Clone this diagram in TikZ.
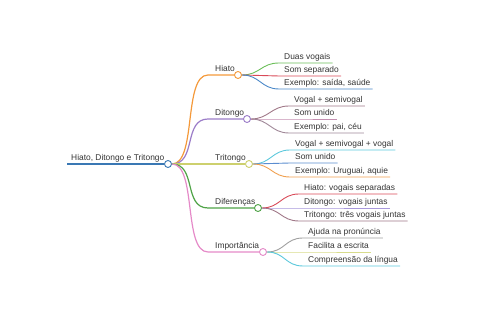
\documentclass[tikz,border=0pt]{standalone}
\usepackage{fontspec}
\setmainfont{Liberation Sans}
\usepackage{tikz}

\definecolor{rootBlue}{HTML}{3A78B4}
\definecolor{brOrange}{HTML}{F4993A}
\definecolor{brPurple}{HTML}{9B7CC8}
\definecolor{brOlive}{HTML}{CDD06E}
\definecolor{brGreen}{HTML}{4FA347}
\definecolor{brPink}{HTML}{E58AC8}
\definecolor{lfGreen}{HTML}{6CBF5A}
\definecolor{lfRed}{HTML}{D94A58}
\definecolor{lfBlue}{HTML}{4A88C8}
\definecolor{lfBrown}{HTML}{A07888}
\definecolor{lfRose}{HTML}{C48FB0}
\definecolor{lfMauve}{HTML}{A08898}
\definecolor{lfCyan}{HTML}{5CC8DC}
\definecolor{lfSky}{HTML}{5B8DD0}
\definecolor{lfOrange}{HTML}{F0A050}
\definecolor{lfLav}{HTML}{A898DC}
\definecolor{lfGray}{HTML}{A0A0A0}
\definecolor{lfLime}{HTML}{D8DC8C}
\definecolor{txtGray}{HTML}{333333}

\begin{document}
\begin{tikzpicture}[x=1pt,y=-1pt,
    font=\fontsize{8.4}{9.5}\selectfont,
    lbl/.style={anchor=base west,inner sep=0pt,text=txtGray},
    dot/.style={circle,draw=#1,fill=white,line width=0.9pt,
        inner sep=0pt,minimum size=7pt},
    branch/.style={line width=1.2pt,#1},
    leaf/.style={line width=0.9pt,#1}]
    \useasboundingbox (0,0) rectangle (480,320);

    % root
    \coordinate (rs) at (67,164);
    \node[dot=rootBlue] (root) at (168,164) {};
    \draw[branch=rootBlue] (rs) -- (root);
    \node[lbl] (rootL) at (71,161) {Hiato, Ditongo e Tritongo};

    % Hiato
    \coordinate (hiS) at (208,75);
    \node[dot=brOrange] (hi) at (238,75) {};
    \node[lbl] (hiL) at (215,72) {Hiato};
    \draw[branch=brOrange] (root.east) .. controls +(25,0) and +(-25,0) .. (hiS) -- (hi);
    \foreach \y/\c/\t [count=\i] in {63/lfGreen/Duas vogais,
            76/lfRed/Som separado, 89/lfBlue/{Exemplo: saída, saúde}} {
        \coordinate (hi\i) at (279,\y);
        \node[lbl] (hiL\i) at (284,\y-3) {\t};
        \draw[leaf=\c] (hi.east) .. controls +(18,0) and +(-18,0) .. (hi\i)
            -- ([xshift=2pt]hiL\i.east |- hi\i);
    }

    % Ditongo
    \coordinate (diS) at (208,119);
    \node[dot=brPurple] (di) at (247,119) {};
    \node[lbl] (diL) at (215,116) {Ditongo};
    \draw[branch=brPurple] (root.east) .. controls +(25,0) and +(-25,0) .. (diS) -- (di);
    \foreach \y/\c/\t [count=\i] in {106/lfBrown/Vogal + semivogal,
            119/lfRose/Som unido, 133/lfMauve/{Exemplo: pai, céu}} {
        \coordinate (di\i) at (289,\y);
        \node[lbl] (diL\i) at (294,\y-3) {\t};
        \draw[leaf=\c] (di.east) .. controls +(18,0) and +(-18,0) .. (di\i)
            -- ([xshift=2pt]diL\i.east |- di\i);
    }

    % Tritongo
    \node[dot=brOlive] (tr) at (249,164) {};
    \node[lbl] (trL) at (215,161) {Tritongo};
    \draw[branch=brOlive] (root) -- (tr);
    \foreach \y/\c/\t [count=\i] in {150/lfCyan/Vogal + semivogal + vogal,
            163/lfSky/Som unido, 177/lfOrange/{Exemplo: Uruguai, aquie}} {
        \coordinate (tr\i) at (290,\y);
        \node[lbl] (trL\i) at (295,\y-3) {\t};
        \draw[leaf=\c] (tr.east) .. controls +(18,0) and +(-18,0) .. (tr\i)
            -- ([xshift=2pt]trL\i.east |- tr\i);
    }

    % Diferenças
    \coordinate (dfS) at (208,208);
    \node[dot=brGreen] (df) at (258,208) {};
    \node[lbl] (dfL) at (215,205) {Diferenças};
    \draw[branch=brGreen] (root.east) .. controls +(25,0) and +(-25,0) .. (dfS) -- (df);
    \foreach \y/\c/\t [count=\i] in {194/lfRed/Hiato: vogais separadas,
            208/lfLav/Ditongo: vogais juntas, 221/lfBrown/Tritongo: três vogais juntas} {
        \coordinate (df\i) at (299,\y);
        \node[lbl] (dfL\i) at (304,\y-3) {\t};
        \draw[leaf=\c] (df.east) .. controls +(18,0) and +(-18,0) .. (df\i)
            -- ([xshift=2pt]dfL\i.east |- df\i);
    }

    % Importância
    \coordinate (imS) at (208,252);
    \node[dot=brPink] (im) at (263,252) {};
    \node[lbl] (imL) at (215,249) {Importância};
    \draw[branch=brPink] (root.east) .. controls +(25,0) and +(-25,0) .. (imS) -- (im);
    \foreach \y/\c/\t [count=\i] in {238/lfGray/Ajuda na pronúncia,
            252/lfLime/Facilita a escrita, 266/lfCyan/Compreensão da língua} {
        \coordinate (im\i) at (303,\y);
        \node[lbl] (imL\i) at (308,\y-3) {\t};
        \draw[leaf=\c] (im.east) .. controls +(18,0) and +(-18,0) .. (im\i)
            -- ([xshift=2pt]imL\i.east |- im\i);
    }
\end{tikzpicture}
\end{document}
